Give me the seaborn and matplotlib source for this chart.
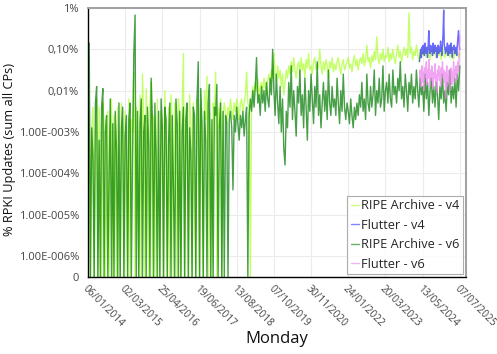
import numpy as np
import pandas as pd
import matplotlib
matplotlib.use("Agg")
import matplotlib.pyplot as plt
import matplotlib.dates as mdates
from matplotlib.ticker import FixedLocator, NullLocator
import seaborn as sns

N = None  # week with no RPKI updates (0 %)

# log10 of the share of RPKI updates (%), one sample every two weeks from 06/01/2014
ripe_v4_exp = [
    -2.1, -2.6, N, -3.0, -2.4, N, -3.2, -2.2, N, -2.4,
    -3.5, N, -2.3, -2.8, N, -4.6, -2.5, N, -3.1, -2.2,
    N, -2.6, -3.3, N, -2.4, -5.2, N, -2.3, -2.9, N,
    -2.5, -3.8, N, -2.2, N, -2.7, -3.0, -1.55, N, -2.4,
    -2.9, N, -2.1, N, -1.6, -2.8, N, -1.95, -3.4, N,
    -2.3, -1.8, N, -2.6, -3.1, N, -2.2, -4.1, N, -2.5,
    -2.7, N, -2.0, -3.2, N, -2.4, N, -2.1, -2.9, N,
    -2.3, -3.6, N, -2.2, -2.6, N, -2.5, -1.1, N, -2.4,
    -3.0, N, -2.1, -2.8, N, -2.3, -4.8, N, -2.2, -2.6,
    N, -2.4, -3.3, N, -2.0, -2.7, -1.65, N, -2.5, -3.1,
    N, -2.3, -2.6, -1.55, N, -2.4, -2.9, -2.2, N, -2.6,
    -2.3, -2.5, -2.8, -2.4, -2.6, -2.2, -2.5, -2.7, -2.3, -2.5,
    -2.2, -2.4, -2.7, -2.3, -2.2, -2.5, -2.3, -2.1, -1.55, -2.3,
    -2.4, N, -2.2, -1.9, -2.1, -1.8, -2.0, -1.7, -2.2, -1.9,
    -1.8, -2.0, -1.7, -1.9, -2.1, -1.75, -1.6, -1.85, -1.5, -1.7,
    -1.1, -1.6, -1.8, -1.4, -1.7, -1.5, -1.9, -1.6, -2.1, -1.8,
    -1.5, -1.7, -1.4, -1.6, -1.3, -1.55, -1.2, -1.5, -1.7, -1.4,
    -1.3, -1.6, -1.2, -1.5, -1.35, -1.7, -1.25, -1.45, -1.1, -1.5,
    -1.4, -1.6, -1.3, -1.2, -1.5, -1.35, -1.45, -1.0, -1.4, -1.6,
    -1.3, -1.5, -1.25, -1.4, -1.7, -1.3, -1.45, -1.2, -1.55, -1.35,
    -1.5, -1.3, -1.2, -1.45, -1.6, -1.35, -1.25, -1.5, -1.4, -1.3,
    -1.2, -1.45, -1.35, -1.55, -1.3, -1.15, -1.4, -1.25, -1.5, -1.3,
    -1.2, -1.35, -1.1, -1.4, -1.25, -0.9, -1.3, -1.2, -1.45, -1.15,
    -1.3, -1.05, -1.25, -0.7, -1.2, -1.35, -1.1, -1.25, -1.0, -1.3,
    -1.15, -1.2, -0.95, -1.3, -1.1, -1.25, -1.0, -1.2, -1.35, -1.1,
    -0.9, -1.2, -1.05, -1.3, -1.1, -0.95, -1.15, -1.0, -1.2, -0.12,
    -1.1, -0.95, -1.25, -1.05, -1.15, -0.9, -1.1, -1.3, -1.0, -1.2,
    -1.05, -1.15, -0.95, -1.2, -1.1, -1.0, -1.25, -1.05, -1.15, -0.95,
    -1.1, -1.2, -1.0, -1.15, -1.05, -1.25, -0.95, -1.1, -1.2, -1.0,
    -1.15, -1.05, -1.2, -0.9, -1.1, -1.25, -1.0, -1.15, -1.05, -1.2,
    -1.1,
]

ripe_v6_exp = [
    -2.5, -0.85, N, -2.9, -3.6, N, -2.3, -1.9, N, -3.2,
    N, -2.4, -1.95, N, -3.0, -2.6, N, -4.2, -2.2, N,
    -2.8, N, -2.5, -3.4, N, -2.3, N, -2.9, -2.4, N,
    -3.1, -2.6, N, -2.7, -2.3, N, -3.5, -1.1, -0.17, N,
    -2.5, N, -2.8, -2.2, N, -3.0, -2.6, N, -2.4, -3.3,
    N, -1.7, -2.7, N, -2.3, -3.6, N, -2.5, N, -2.2,
    -2.9, N, -2.4, -2.7, N, -3.3, -2.3, N, -2.6, -4.4,
    N, -2.2, -2.8, N, -2.5, N, -3.0, -2.4, N, -2.7,
    -2.3, N, -2.9, -3.5, N, -2.4, -2.6, N, -2.2, -1.3,
    N, -1.95, -2.8, N, -2.5, -3.2, N, -2.3, -1.85, N,
    -2.7, N, -2.4, -2.6, -1.85, N, -2.9, -2.3, N, -2.5,
    N, -2.6, -2.8, N, -2.7, -2.5, -2.9, -4.4, -2.6, -3.0,
    -2.4, -2.8, -3.2, -2.6, -2.9, -2.5, -3.1, -2.7, -2.4, N,
    -2.6, -2.2, -2.5, -2.0, -2.4, -1.9, -1.2, -2.3, -2.1, -2.6,
    -1.9, -2.3, -2.0, -2.5, -1.8, -2.2, -2.4, -1.7, -2.1, -1.0,
    -2.0, -2.6, -1.6, -2.3, -2.8, -1.9, -3.0, -2.2, -3.4, -3.8,
    -2.5, -2.9, -1.8, -2.4, -1.4, -2.7, -2.0, -2.5, -3.1, -1.9,
    -2.3, -1.5, -2.6, -2.1, -2.9, -1.7, -2.4, -3.2, -2.0, -2.5,
    -1.6, -2.2, -2.8, -1.9, -2.4, -1.3, -2.6, -2.1, -2.9, -2.3,
    -1.8, -2.5, -2.0, -2.7, -1.5, -2.3, -2.6, -1.9, -2.4, -2.2,
    -2.6, -1.7, -2.3, -2.8, -2.0, -2.5, -1.6, -2.4, -2.7, -2.3,
    -2.5, -2.8, -2.2, -2.6, -2.9, -2.4, -2.7, -2.3, -2.6, -2.1,
    -2.4, -1.8, -2.5, -2.2, -2.7, -1.6, -2.3, -2.5, -1.9, -2.4,
    -2.1, -1.5, -2.6, -2.0, -2.3, -1.7, -2.4, -2.2, -1.4, -2.5,
    -2.0, -1.8, -2.3, -1.6, -2.2, -2.4, -1.5, -2.1, -1.9, -2.3,
    -1.7, -2.0, -1.3, -2.2, -1.9, -2.4, -1.6, -2.0, -2.5, -1.8,
    -2.1, -1.6, -2.3, -1.9, -2.2, -1.5, -2.0, -2.4, -1.7, -2.1,
    -1.9, -2.5, -1.6, -2.2, -1.8, -2.6, -2.0, -1.7, -2.3, -1.9,
    -2.4, -1.8, -2.1, -2.7, -1.9, -2.2, -1.6, -2.3, -2.0, -2.5,
    -1.8, -2.1, -1.5, -2.3, -1.9, -2.2, -1.7, -2.4, -1.6, -2.0,
    -1.4,
]

# Flutter collectors, weekly from 08/04/2024
flutter_v4_exp = [
    -1.3, -1.15, -1.0, -1.2, -0.95, -1.1, -0.9, -1.05, -1.15, -0.85,
    -1.0, -1.1, -0.95, -1.2, -0.9, -0.55, -1.0, -1.1, -0.9, -1.05,
    -0.95, -1.15, -0.85, -1.0, -1.1, -0.9, -1.05, -0.95, -1.2, -1.0,
    -0.9, -1.1, -0.95, -1.05, -0.8, -1.0, -1.15, -0.9, -0.6, -0.05,
    -0.9, -1.0, -1.1, -0.95, -1.05, -0.85, -1.15, -1.0, -0.9, -1.1,
    -1.0, -0.85, -1.05, -1.2, -0.95, -1.0, -0.9, -1.1, -1.05, -0.95,
    -1.15, -0.9, -0.7, -0.55, -0.9, -1.0,
]

flutter_v6_exp = [
    -1.7, -1.5, -1.9, -1.6, -1.4, -1.8, -1.55, -2.0, -1.45, -1.7,
    -1.6, -1.3, -1.85, -1.5, -1.7, -1.25, -1.65, -1.9, -1.5, -1.75,
    -1.4, -1.6, -1.95, -1.55, -1.7, -1.35, -1.8, -1.6, -2.05, -1.5,
    -1.65, -1.4, -1.75, -1.55, -1.9, -1.45, -1.7, -1.3, -1.6, -1.5,
    -1.8, -1.55, -2.2, -1.65, -1.4, -1.9, -1.6, -1.75, -1.5, -2.0,
    -1.6, -1.45, -1.85, -1.55, -1.7, -1.3, -1.8, -1.5, -1.65, -1.4,
    -1.75, -1.5, -1.3, -1.55, -1.1, -0.65,
]

series_names = ["RIPE Archive - v4", "Flutter - v4", "RIPE Archive - v6", "Flutter - v6"]
series_colors = ["#adff2f", "#3030ff", "#007a00", "#ee82ee"]

x_ticks = pd.date_range("2014-01-06", periods=11, freq="420D")
y_ticks = [0, 1e-6, 1e-5, 1e-4, 1e-3, 1e-2, 1e-1, 1]
y_tick_labels = ["0", "1.00E-006%", "1.00E-005%", "1.00E-004%", "1.00E-003%",
                 "0,01%", "0,10%", "1%"]


def to_pct(exps):
    return [0.0 if e is None else 10.0 ** e for e in exps]


ripe_dates = pd.date_range("2014-01-06", periods=len(ripe_v4_exp), freq="14D")
flutter_dates = pd.date_range("2024-04-08", periods=len(flutter_v4_exp), freq="7D")

frames = [
    pd.DataFrame({"Monday": ripe_dates, "pct": to_pct(ripe_v4_exp), "series": series_names[0]}),
    pd.DataFrame({"Monday": flutter_dates, "pct": to_pct(flutter_v4_exp), "series": series_names[1]}),
    pd.DataFrame({"Monday": ripe_dates, "pct": to_pct(ripe_v6_exp), "series": series_names[2]}),
    pd.DataFrame({"Monday": flutter_dates, "pct": to_pct(flutter_v6_exp), "series": series_names[3]}),
]
df = pd.concat(frames, ignore_index=True)

sns.set_theme(style="white")
plt.rcParams["font.family"] = ["Open Sans", "DejaVu Sans"]

fig = plt.figure(figsize=(4.97, 3.54), dpi=100)
ax = fig.add_axes([0.177, 0.2175, 0.7606, 0.7599])

sns.lineplot(data=df, x="Monday", y="pct", hue="series", hue_order=series_names,
             palette=dict(zip(series_names, series_colors)), estimator=None,
             linewidth=1.0, alpha=0.72, ax=ax)

ax.set_yscale("symlog", linthresh=1e-6, linscale=0.46)
ax.set_ylim(0, 1)
ax.yaxis.set_major_locator(FixedLocator(y_ticks))
ax.yaxis.set_minor_locator(NullLocator())
ax.set_yticklabels(y_tick_labels)

ax.set_xlim(pd.Timestamp("2014-01-06"), pd.Timestamp("2025-09-15"))
ax.set_xticks(x_ticks)
ax.xaxis.set_major_formatter(mdates.DateFormatter("%d/%m/%Y"))
for lab in ax.get_xticklabels():
    lab.set_rotation(-45)
    lab.set_ha("left")
    lab.set_va("top")
    lab.set_rotation_mode("anchor")
    lab.set_fontsize(7.3)

ax.tick_params(axis="y", labelsize=8)
ax.tick_params(axis="both", colors="#444444", length=3, width=0.8)
ax.tick_params(axis="x", pad=1.5)
ax.grid(True, color="#ececec", linewidth=0.8)
ax.set_axisbelow(True)

for side in ("top", "right"):
    ax.spines[side].set_color("#a0a0a0")
    ax.spines[side].set_linewidth(1.4)
for side in ("left", "bottom"):
    ax.spines[side].set_color("#000000")
    ax.spines[side].set_linewidth(1.0)

ax.set_ylabel("% RPKI Updates (sum all CPs)", fontsize=9.2, color="#111111")
ax.yaxis.set_label_coords(-0.19, 0.475)
ax.set_xlabel("Monday", fontsize=12, color="#111111", labelpad=1)

leg = ax.legend(loc="lower right", fontsize=9.2, handlelength=0.6, handletextpad=0.2,
                borderpad=0.3, labelspacing=0.5, frameon=True, fancybox=False,
                borderaxespad=0.2)
leg.get_frame().set_edgecolor("#999999")
leg.get_frame().set_linewidth(0.8)
for line in leg.get_lines():
    line.set_alpha(0.6)
    line.set_linewidth(1.0)

fig.savefig("out.png", dpi=100)
